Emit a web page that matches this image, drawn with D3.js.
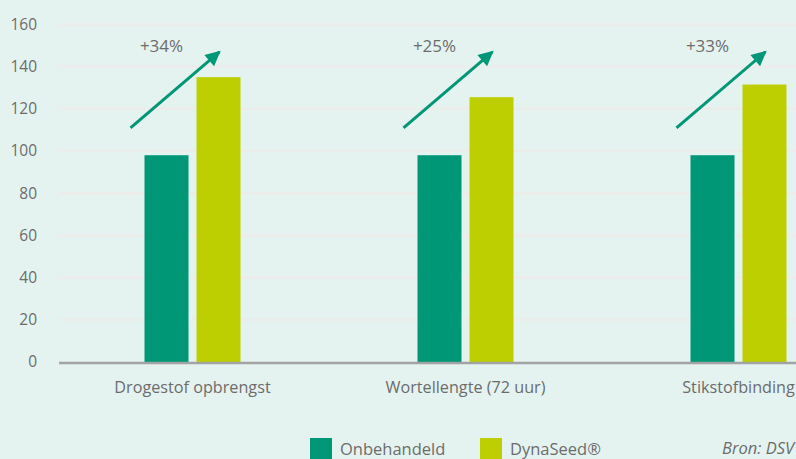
<!DOCTYPE html>
<html>
<head>
<meta charset="utf-8">
<script src="https://cdn.jsdelivr.net/npm/d3@7"></script>
<style>
  body { margin: 0; background: #e5f3f0; overflow: hidden; }
  svg { display: block; font-family: "Open Sans", sans-serif; }
</style>
</head>
<body>
<div id="chart"></div>
<script>
// data
var categories = ['Drogestof opbrengst', 'Wortellengte (72 uur)', 'Stikstofbinding'];
var seriesNames = ['Onbehandeld', 'DynaSeed®'];
var onbehandeld = [98, 98, 98];
var dynaseed = [135, 125.5, 131.5];
var increaseLabels = ['+34%', '+25%', '+33%'];
var arrowFrom = [111, 111, 111];   // arrow start (value units)
var arrowTo = [147, 147, 147];     // arrow tip (value units)
var yTicks = [0, 20, 40, 60, 80, 100, 120, 140, 160];

var width = 796, height = 459;
var colors = ['#009777', '#becf00'];
var textColor = '#6c6c6c';

var svg = d3.select('#chart')
  .append('svg')
  .attr('width', width)
  .attr('height', height);

svg.append('rect')
  .attr('width', width)
  .attr('height', height)
  .attr('fill', '#e5f3f0');

var x0 = d3.scaleBand().domain(categories).range([56, 875]).paddingInner(0).paddingOuter(0);
var x1 = d3.scaleBand().domain(seriesNames).range([0, 96]).paddingInner(0.1538);
var y = d3.scaleLinear().domain([0, 160]).range([362, 24.4]);

// grid lines
svg.append('g')
  .selectAll('line')
  .data(yTicks.filter(function(d) { return d > 0; }))
  .enter()
  .append('line')
  .attr('x1', 59)
  .attr('x2', width)
  .attr('y1', function(d) { return y(d); })
  .attr('y2', function(d) { return y(d); })
  .attr('stroke', '#ecedeb')
  .attr('stroke-width', 2.5);

// y axis labels
var yAxis = d3.axisLeft(y).tickValues(yTicks).tickSize(0).tickPadding(0);
var gy = svg.append('g')
  .attr('transform', 'translate(37,0)')
  .call(yAxis);
gy.select('.domain').remove();
gy.selectAll('text')
  .attr('fill', textColor)
  .style('font-size', '15.5px')
  .style('font-family', '"Open Sans", sans-serif');

// bars
var rows = categories.map(function(c, i) {
  return { cat: c, values: [onbehandeld[i], dynaseed[i]] };
});

var groups = svg.selectAll('.group')
  .data(rows)
  .enter()
  .append('g')
  .attr('class', 'group')
  .attr('transform', function(d) {
    return 'translate(' + (x0(d.cat) + x0.bandwidth() / 2 - 48) + ',0)';
  });

groups.selectAll('rect')
  .data(function(d) { return d.values.map(function(v, j) { return { s: seriesNames[j], v: v, j: j }; }); })
  .enter()
  .append('rect')
  .attr('x', function(d) { return x1(d.s); })
  .attr('width', x1.bandwidth())
  .attr('y', function(d) { return y(d.v); })
  .attr('height', function(d) { return y(0) - y(d.v); })
  .attr('fill', function(d) { return colors[d.j]; });

// x axis line
svg.append('line')
  .attr('x1', 59)
  .attr('x2', width)
  .attr('y1', y(0) + 1)
  .attr('y2', y(0) + 1)
  .attr('stroke', '#a2a4a4')
  .attr('stroke-width', 2.5);

// category labels
svg.selectAll('.cat-label')
  .data(categories)
  .enter()
  .append('text')
  .attr('class', 'cat-label')
  .attr('x', function(d) { return x0(d) + x0.bandwidth() / 2; })
  .attr('y', 393)
  .attr('text-anchor', 'middle')
  .attr('fill', textColor)
  .style('font-size', '16.2px')
  .text(function(d) { return d; });

// arrows
svg.append('defs')
  .append('marker')
  .attr('id', 'head')
  .attr('viewBox', '0 0 10 10')
  .attr('refX', 9)
  .attr('refY', 5)
  .attr('markerUnits', 'userSpaceOnUse')
  .attr('markerWidth', 17)
  .attr('markerHeight', 15)
  .attr('orient', 'auto')
  .append('path')
  .attr('d', 'M0,0 L10,5 L0,10 z')
  .attr('fill', colors[0]);

svg.selectAll('.arrow')
  .data(categories)
  .enter()
  .append('line')
  .attr('class', 'arrow')
  .attr('x1', function(d) { return x0(d) + x0.bandwidth() / 2 - 62; })
  .attr('y1', function(d, i) { return y(arrowFrom[i]); })
  .attr('x2', function(d) { return x0(d) + x0.bandwidth() / 2 + 27; })
  .attr('y2', function(d, i) { return y(arrowTo[i]); })
  .attr('stroke', colors[0])
  .attr('stroke-width', 3)
  .attr('marker-end', 'url(#head)');

svg.selectAll('.pct')
  .data(categories)
  .enter()
  .append('text')
  .attr('class', 'pct')
  .attr('x', function(d) { return x0(d) + x0.bandwidth() / 2 - 31; })
  .attr('y', 52)
  .attr('text-anchor', 'middle')
  .attr('fill', textColor)
  .style('font-size', '17px')
  .text(function(d, i) { return increaseLabels[i]; });

// legend
var legendX = [310, 480];
var legend = svg.selectAll('.legend')
  .data(seriesNames)
  .enter()
  .append('g')
  .attr('class', 'legend')
  .attr('transform', function(d, i) { return 'translate(' + legendX[i] + ',438)'; });

legend.append('rect')
  .attr('width', 22)
  .attr('height', 22)
  .attr('fill', function(d, i) { return colors[i]; });

legend.append('text')
  .attr('x', 30)
  .attr('y', 17)
  .attr('fill', textColor)
  .style('font-size', '16.5px')
  .text(function(d) { return d; });

svg.append('text')
  .attr('x', 722)
  .attr('y', 454)
  .attr('fill', textColor)
  .style('font-size', '16.5px')
  .style('font-style', 'italic')
  .text('Bron: DSV');
</script>
</body>
</html>
